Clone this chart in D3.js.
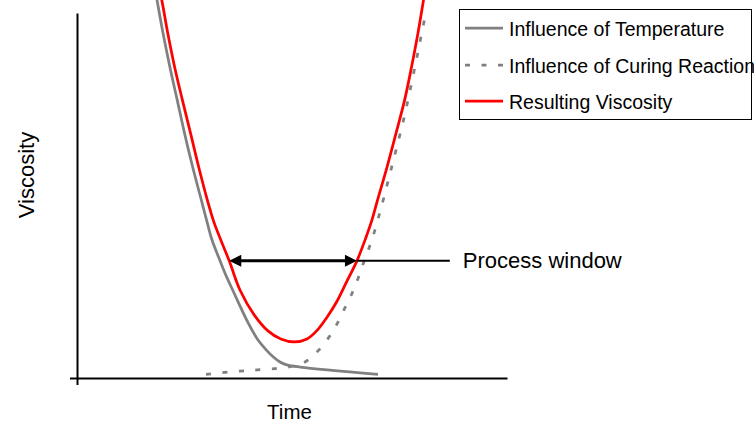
<!DOCTYPE html>
<!-- viscosity vs time during cure: temperature effect, curing effect, resulting curve and process window -->
<meta charset="utf-8">
<style>
  body { margin: 0; background: #fff; }
  text { font-family: "Liberation Sans", Arial, sans-serif; fill: #000; }
</style>
<div id="graph_div"></div>

<script src="https://d3js.org/d3.v7.min.js"></script>

<script>

// --- data (time in arbitrary units, viscosity in % of axis height) ---
let temp_time = [1.84, 1.86, 2.00, 2.16, 2.33, 2.50, 2.69, 2.89, 3.03, 3.14, 3.29, 3.45, 3.62, 3.80, 3.98, 4.21, 4.40, 4.56, 4.72, 4.88, 5.19, 7.0];
let temp_visc = [104.9, 103.6, 94.5, 85.2, 76.2, 67.1, 57.8, 48.8, 42.5, 37.8, 33.2, 28.5, 24.1, 19.5, 15.1, 10.4, 7.7, 5.8, 4.4, 3.6, 3.0, 1.0];

let cure_time = [3.0, 3.79, 4.19, 4.61, 4.91, 5.30, 5.58, 5.86, 6.06, 6.23, 6.40, 6.54, 6.67, 6.80, 6.93, 7.04, 7.14, 7.27, 7.42, 7.61, 7.78, 7.94, 8.08, 8.13];
let cure_visc = [1.0, 1.9, 2.2, 2.6, 3.0, 4.4, 7.1, 11.2, 15.1, 19.2, 23.3, 27.4, 31.8, 35.9, 40.6, 45.2, 49.6, 55.6, 62.5, 71.5, 80.8, 89.9, 98.1, 100.3];

let result_time = [1.94, 1.97, 2.11, 2.27, 2.45, 2.64, 2.83, 3.03, 3.19, 3.54, 3.79, 4.12, 4.44, 4.74, 5.05, 5.35, 5.58, 5.81, 6.05, 6.28, 6.51, 6.72, 6.86, 6.99, 7.21, 7.42, 7.62, 7.78, 7.93, 8.06, 8.08];
let result_visc = [104.9, 103.6, 94.5, 85.2, 76.2, 67.1, 57.8, 48.8, 42.5, 32.1, 24.1, 17.3, 12.9, 10.7, 9.9, 10.7, 13.0, 16.6, 21.1, 26.6, 32.1, 38.5, 43.3, 48.8, 57.8, 67.1, 76.2, 85.2, 94.5, 103.6, 104.9];

let window_time = [3.54, 6.51];
let window_visc = 32.1;
let window_label_end = 8.67;
let window_label = "Process window";

let series_names = ["Influence of Temperature", "Influence of Curing Reaction", "Resulting Viscosity"];
let x_title = "Time";
let y_title = "Viscosity";

// --- layout ---
let container_width = 754,
    container_height = 423;

let x = d3.scaleLinear().domain([0, 10]).range([77, 507]);
let y = d3.scaleLinear().domain([0, 100]).range([378, 13]);

let svg = d3.select("#graph_div")
  .append("svg")
    .attr("width", container_width)
    .attr("height", container_height);

// axes: a single tick at 0 gives the little cross at the origin
svg.append("g")
    .attr("transform", "translate(0," + y(0) + ")")
    .call(d3.axisBottom(x).tickValues([0]).tickSize(7).tickSizeOuter(0).tickFormat(""));
svg.append("g")
    .attr("transform", "translate(" + x(0) + ",0)")
    .call(d3.axisLeft(y).tickValues([0]).tickSize(7).tickSizeOuter(0).tickFormat(""));
svg.selectAll(".domain, .tick line").attr("stroke", "#000").attr("stroke-width", 2);

// axis titles
svg.append("text")
    .attr("x", 289.5)
    .attr("y", 418.5)
    .attr("text-anchor", "middle")
    .style("font-size", "20.5px")
    .text(x_title);

svg.append("text")
    .attr("transform", "translate(34,175) rotate(-90)")
    .attr("text-anchor", "middle")
    .style("font-size", "22px")
    .text(y_title);

// curves
let line = d3.line()
  .x(d => x(d[0]))
  .y(d => y(d[1]))
  .curve(d3.curveCatmullRom.alpha(0.5));

let series = [
  { name: series_names[0], pts: d3.zip(temp_time, temp_visc), color: "#808080", dash: null },
  { name: series_names[1], pts: d3.zip(cure_time, cure_visc), color: "#808080", dash: "5,11.5" },
  { name: series_names[2], pts: d3.zip(result_time, result_visc), color: "#ff0000", dash: null }
];

svg.selectAll(".curve")
  .data(series)
  .enter()
  .append("path")
    .attr("class", "curve")
    .attr("d", d => line(d.pts))
    .attr("fill", "none")
    .attr("stroke", d => d.color)
    .attr("stroke-width", 2.75)
    .attr("stroke-dasharray", d => d.dash);

// process window arrow
let wy = y(window_visc),
    wx0 = x(window_time[0]),
    wx1 = x(window_time[1]);

svg.append("line")
    .attr("x1", wx0 + 6).attr("x2", wx1 - 6)
    .attr("y1", wy).attr("y2", wy)
    .attr("stroke", "#000").attr("stroke-width", 3);
svg.append("line")
    .attr("x1", wx1).attr("x2", x(window_label_end))
    .attr("y1", wy).attr("y2", wy)
    .attr("stroke", "#000").attr("stroke-width", 2);

svg.append("path")
    .attr("d", "M" + wx0 + "," + wy + "L" + (wx0 + 12) + "," + (wy - 6) + "L" + (wx0 + 12) + "," + (wy + 6) + "Z")
    .attr("fill", "#000");
svg.append("path")
    .attr("d", "M" + wx1 + "," + wy + "L" + (wx1 - 12) + "," + (wy - 6) + "L" + (wx1 - 12) + "," + (wy + 6) + "Z")
    .attr("fill", "#000");

svg.append("text")
    .attr("x", x(window_label_end) + 13)
    .attr("y", wy + 7.5)
    .style("font-size", "22px")
    .text(window_label);

// legend
let legend = svg.append("g");
legend.append("rect")
    .attr("x", 459.5).attr("y", 9.5)
    .attr("width", 292).attr("height", 110)
    .attr("fill", "#fff")
    .attr("stroke", "#000")
    .attr("stroke-width", 1);

let rows = [28, 65, 101];
let items = legend.selectAll(".item")
  .data(series)
  .enter()
  .append("g")
    .attr("transform", (d, i) => "translate(0," + rows[i] + ")");

items.append("line")
    .attr("x1", 465).attr("x2", 503)
    .attr("stroke", d => d.color)
    .attr("stroke-width", 2.75)
    .attr("stroke-dasharray", d => d.dash);

items.append("text")
    .attr("x", 509)
    .attr("y", 8)
    .style("font-size", "19.5px")
    .text(d => d.name);

</script>
